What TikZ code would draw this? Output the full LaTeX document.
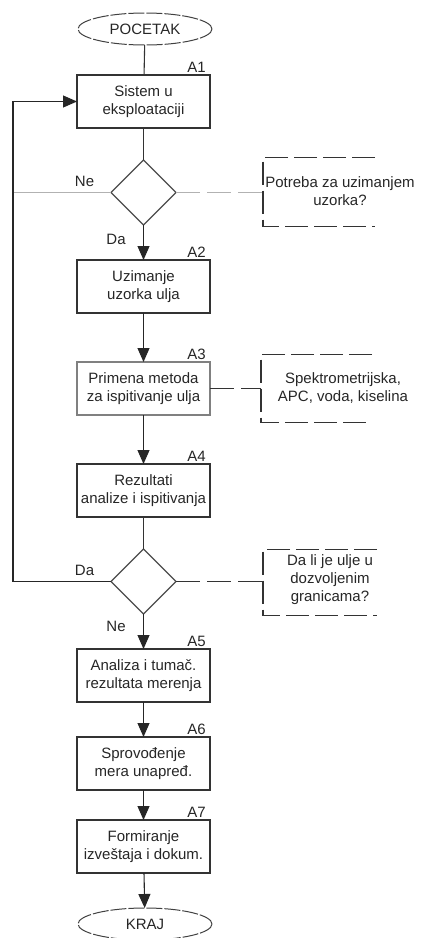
\documentclass[tikz,border=0pt]{standalone}
\usepackage{fontspec}
\setmainfont{Liberation Sans}
\usetikzlibrary{arrows.meta,positioning,shapes.geometric}

\begin{document}
\begin{tikzpicture}[
        x=1pt, y=1pt,
        font=\fontsize{15}{18}\selectfont,
        every node/.style={text=black!85},
        box/.style={draw=black!80, align=center, line width=1.1pt, outer sep=0pt,
            minimum width=133pt, minimum height=53pt, inner sep=2pt},
        term/.style={draw=black!75, ellipse, line width=1pt, outer sep=0pt,
            dash pattern=on 16pt off 2pt, minimum width=134pt, minimum height=32pt},
        cond/.style={draw=black!70, diamond, line width=1.1pt, outer sep=0pt,
            minimum width=65pt, minimum height=65pt, inner sep=0pt},
        note/.style={draw=black!80, line width=1.1pt, dash pattern=on 23pt off 6pt},
        link/.style={line width=1.1pt, dash pattern=on 24pt off 7pt},
        tag/.style={anchor=south east, inner sep=2pt, xshift=-2pt},
        arr/.style={-{Triangle[length=14pt,width=12pt]}, line width=1.1pt, draw=black!85},
        ln/.style={line width=1.1pt, draw=black!80}
    ]
    \useasboundingbox (0,0) rectangle (422,-938);
    \node[term] (start) at (145,-29) {POCETAK};
    \node[box, below=30pt of start, xshift=-1.5pt,
        label={[tag]north east:A1}] (a1) {Sistem u\\eksploataciji};
    \node[cond, below=32pt of a1] (d1) {};
    \node[box, below=35pt of d1, label={[tag]north east:A2}] (a2) {Uzimanje\\uzorka ulja};
    \node[box, below=49pt of a2, draw=black!50,
        label={[tag]north east:A3}] (a3) {Primena metoda\\za ispitivanje ulja};
    \node[box, below=49pt of a3, label={[tag]north east:A4}] (a4) {Rezultati\\analize i ispitivanja};
    \node[cond, below=32pt of a4] (d2) {};
    \node[box, below=35pt of d2, label={[tag]north east:A5}] (a5) {Analiza i tuma\v{c}.\\rezultata merenja};
    \node[box, below=35pt of a5, label={[tag]north east:A6}] (a6) {Sprovo\dj enje\\mera unapre\dj.};
    \node[box, below=30pt of a6, label={[tag]north east:A7}] (a7) {Formiranje\\izve\v{s}taja i dokum.};
    \node[term, below=35pt of a7, xshift=1.5pt] (end) {KRAJ};

    % napomene uz odluke i metode
    \coordinate[right=87pt of d1] (b1);
    \coordinate[right=51pt of a3] (b2);
    \coordinate[right=87pt of d2] (b3);
    \coordinate[left=98pt of d2] (back);
    \node[align=center] (n1) at (340,-191) {Potreba za uzimanjem\\uzorka?};
    \node[align=center] (n2) at (343,-388) {Spektrometrijska,\\APC, voda, kiselina};
    \node[align=center] (n3) at (330,-580) {Da li je ulje u\\dozvoljenim\\granicama?};
    \draw[note] (b1) ++(112,35) -- ++(-112,0) -- ++(0,-69) -- ++(112,0);
    \draw[note] (b2) ++(111,34) -- ++(-111,0) -- ++(0,-68) -- ++(111,0);
    \draw[note] (b3) ++(114,32) -- ++(-114,0) -- ++(0,-66) -- ++(114,0);

    \draw[ln] (start) -- (a1);
    \draw[ln] (a1) -- (d1);
    \draw[arr] (d1) -- (a2) node[pos=0.4, left=14pt] {Da};
    \draw[arr] (a2) -- (a3);
    \draw[arr] (a3) -- (a4);
    \draw[ln] (a4) -- (d2);
    \draw[arr] (d2) -- (a5) node[pos=0.35, left=14pt] {Ne};
    \draw[arr] (a5) -- (a6);
    \draw[arr] (a6) -- (a7);
    \draw[arr] (a7) -- (end);

    \draw[ln, draw=black!30] (d1.west) -- (d1.west -| back)
        node[pos=0.27, above=2pt] {Ne};
    \draw[arr] (d2.west) -- (back) node[pos=0.27, above=2pt] {Da} |- (a1.west);
    \draw[link, draw=black!30] (d1.east) -- (b1);
    \draw[link, draw=black!80] (a3.east) -- (b2);
    \draw[link, draw=black!80] (d2.east) -- (b3);
\end{tikzpicture}
\end{document}
